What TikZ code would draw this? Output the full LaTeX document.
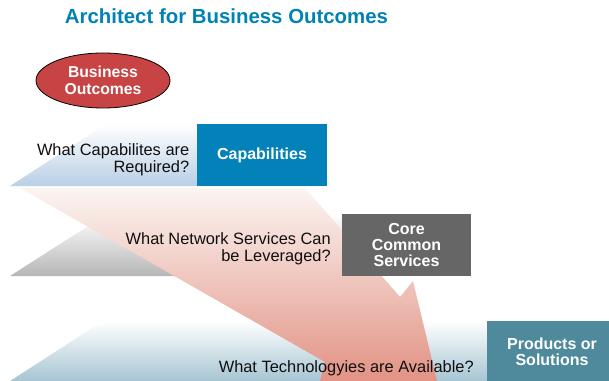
\documentclass[tikz,border=0pt]{standalone}
\usepackage{fontspec}
\setmainfont{Liberation Sans}
\usetikzlibrary{shapes.geometric}
\definecolor{ciscoblue}{RGB}{0,130,182}
\definecolor{capblue}{RGB}{2,130,184}
\definecolor{ellred}{RGB}{200,68,68}
\definecolor{coregray}{RGB}{102,102,102}
\definecolor{prodteal}{RGB}{78,138,156}
\definecolor{bandone}{RGB}{184,207,229}
\definecolor{bandtwo}{RGB}{182,182,182}
\definecolor{bandthree}{RGB}{166,197,210}
\definecolor{pinktop}{RGB}{251,245,242}
\definecolor{pinkbot}{RGB}{226,146,132}
\definecolor{qtext}{RGB}{15,15,15}
\begin{document}
\begin{tikzpicture}[x=0.75pt,y=-0.75pt,
  boxnode/.style={inner sep=0pt, text=white, font=\fontsize{12}{12.2}\selectfont\bfseries, align=center, minimum height=46.5pt},
  question/.style={inner sep=0pt, font=\fontsize{12.3}{12.6}\selectfont, align=right, text=qtext}]
\useasboundingbox (0,0) rectangle (609,381);
\clip (0,0) rectangle (609,381);
% bands
\shade[top color=white, middle color=bandone!50!white, bottom color=bandone] (10,186) -- (106,124) -- (320,124) -- (320,186) -- cycle;
\shade[top color=white, middle color=bandtwo!50!white, bottom color=bandtwo] (10,276) -- (107,214) -- (345,214) -- (345,276) -- cycle;
\shade[top color=white, middle color=bandthree!50!white, bottom color=bandthree] (10,381) -- (103,321) -- (490,321) -- (490,381) -- cycle;
% pink arrow
\shade[top color=pinktop, bottom color=pinkbot] (20,188) -- (305,188) -- (400,297) -- (413,281) -- (437,381) -- (320,381) -- (325,362) -- cycle;
% title
\node[anchor=base, font=\fontsize{15.3}{18}\selectfont\bfseries, text=ciscoblue, inner sep=0pt] (title) at (226.5,23.3) {Architect for Business Outcomes};
% ellipse
\node[ellipse, draw=black, line width=0.6pt, fill=ellred, minimum width=100.5pt, minimum height=41.25pt, inner sep=0pt, text=white, align=center, font=\fontsize{11.8}{13.3}\selectfont\bfseries] (bo) at (103,80.5) {Business\\Outcomes};
% boxes
\node[boxnode, fill=capblue, minimum width=97.5pt] (cap) at (262,155) {Capabilities};
\node[boxnode, fill=coregray, minimum width=96.75pt] (core) at (406.5,245) {Core\\Common\\Services};
\node[boxnode, fill=prodteal, minimum width=97.5pt] (prod) at (552,352) {Products or\\Solutions};
% questions
\node[question, anchor=east] (q1) at (189.5,160) {What Capabilites are\\Required?};
\node[question, anchor=east] (q2) at (331,249) {What Network Services Can\\be Leveraged?};
\node[question, anchor=base east] (q3) at (474,372.5) {What Technologyies are Available?};
\end{tikzpicture}
\end{document}
